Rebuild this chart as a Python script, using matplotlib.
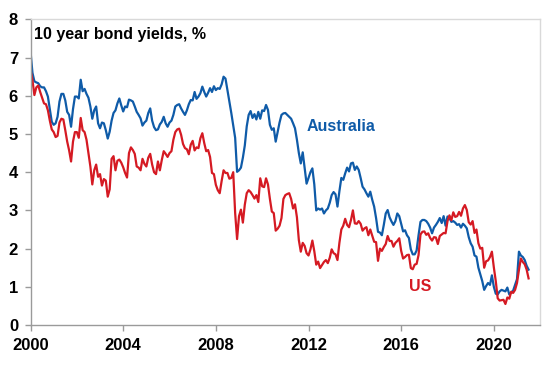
import matplotlib
matplotlib.use("Agg")
import matplotlib.pyplot as plt
import pandas as pd
import numpy as np

plt.rcParams['font.family'] = ['Liberation Sans', 'DejaVu Sans']

# Month-end 10 year bond yields (%), Jan 2000 - Jul 2021
start_month = "2000-01-01"

au_yields = [
    7.16, 6.60, 6.38, 6.35, 6.33, 6.25, 6.22, 6.22, 6.12, 5.98, 5.65, 5.32,  # 2000
    5.24, 5.28, 5.45, 5.85, 6.05, 6.05, 5.88, 5.58, 5.50, 5.19, 5.65, 5.98,  # 2001
    5.98, 5.93, 6.42, 6.12, 6.18, 6.05, 5.95, 5.72, 5.40, 5.62, 5.72, 5.28,  # 2002
    5.15, 5.30, 5.28, 5.10, 4.88, 5.06, 5.35, 5.55, 5.62, 5.80, 5.93, 5.75,  # 2003
    5.59, 5.72, 5.70, 5.90, 5.88, 5.85, 5.72, 5.58, 5.50, 5.41, 5.22, 5.30,  # 2004
    5.35, 5.55, 5.67, 5.35, 5.18, 5.10, 5.12, 5.25, 5.32, 5.45, 5.28, 5.19,  # 2005
    5.30, 5.35, 5.50, 5.72, 5.76, 5.78, 5.67, 5.58, 5.50, 5.62, 5.78, 5.89,  # 2006
    5.88, 6.10, 5.92, 5.98, 6.07, 6.24, 6.10, 5.98, 6.08, 6.20, 6.10, 6.25,  # 2007
    6.15, 6.20, 6.18, 6.30, 6.50, 6.45, 6.15, 5.85, 5.55, 5.22, 4.90, 4.01,  # 2008
    4.05, 4.12, 4.38, 4.70, 5.20, 5.50, 5.60, 5.42, 5.52, 5.38, 5.58, 5.40,  # 2009
    5.62, 5.60, 5.76, 5.63, 5.24, 5.11, 5.15, 4.80, 5.05, 5.30, 5.50, 5.54,  # 2010
    5.55, 5.50, 5.45, 5.40, 5.28, 5.15, 4.85, 4.50, 4.23, 4.52, 4.12, 3.70,  # 2011
    3.85, 4.00, 4.10, 3.68, 3.00, 3.05, 3.02, 3.05, 2.92, 3.00, 3.05, 3.20,  # 2012
    3.40, 3.48, 3.42, 3.10, 3.50, 3.85, 3.80, 3.97, 4.12, 4.02, 4.23, 4.25,  # 2013
    4.06, 4.15, 4.06, 3.85, 3.62, 3.55, 3.45, 3.36, 3.49, 3.28, 3.10, 2.80,  # 2014
    2.44, 2.42, 2.35, 2.62, 2.92, 3.01, 2.82, 2.71, 2.62, 2.72, 2.92, 2.85,  # 2015
    2.65, 2.45, 2.48, 2.35, 2.28, 1.98, 1.85, 1.85, 1.95, 2.35, 2.70, 2.75,  # 2016
    2.75, 2.72, 2.65, 2.55, 2.40, 2.55, 2.62, 2.70, 2.80, 2.67, 2.85, 2.60,  # 2017
    2.84, 2.80, 2.70, 2.72, 2.68, 2.62, 2.64, 2.55, 2.65, 2.60, 2.53, 2.30,  # 2018
    2.14, 2.05, 1.82, 1.79, 1.50, 1.32, 1.15, 0.92, 1.02, 1.10, 1.05, 1.30,  # 2019
    1.00, 0.82, 0.80, 0.88, 0.92, 0.90, 0.88, 0.98, 0.80, 0.85, 0.90, 1.05,  # 2020
    1.20, 1.92, 1.82, 1.78, 1.70, 1.55, 1.45,                                # 2021
]

us_yields = [
    6.68, 6.41, 6.02, 6.22, 6.27, 6.10, 5.95, 5.80, 5.78, 5.62, 5.35, 5.12,  # 2000
    5.05, 4.92, 4.95, 5.30, 5.40, 5.38, 5.10, 4.80, 4.57, 4.28, 4.80, 5.05,  # 2001
    5.05, 4.90, 5.42, 5.10, 5.05, 4.85, 4.50, 4.15, 3.68, 4.05, 4.20, 3.88,  # 2002
    3.95, 3.65, 3.82, 3.78, 3.36, 3.55, 4.35, 4.42, 4.05, 4.30, 4.33, 4.25,  # 2003
    4.13, 3.98, 3.86, 4.50, 4.65, 4.58, 4.48, 4.15, 4.12, 4.05, 4.35, 4.22,  # 2004
    4.15, 4.38, 4.48, 4.20, 4.00, 3.95, 4.28, 4.05, 4.32, 4.55, 4.48, 4.40,  # 2005
    4.50, 4.55, 4.85, 5.05, 5.12, 5.14, 4.98, 4.74, 4.63, 4.60, 4.47, 4.72,  # 2006
    4.82, 4.57, 4.65, 4.63, 4.89, 5.02, 4.76, 4.55, 4.58, 4.40, 3.98, 3.95,  # 2007
    3.67, 3.53, 3.45, 3.77, 4.05, 3.98, 3.98, 3.83, 3.85, 4.00, 2.93, 2.25,  # 2008
    2.85, 3.02, 2.68, 3.15, 3.45, 3.53, 3.48, 3.40, 3.31, 3.40, 3.22, 3.84,  # 2009
    3.63, 3.61, 3.84, 3.68, 3.30, 2.97, 2.93, 2.47, 2.52, 2.60, 2.80, 3.30,  # 2010
    3.40, 3.43, 3.45, 3.30, 3.05, 3.16, 2.82, 2.22, 1.92, 2.15, 2.07, 1.88,  # 2011
    1.82, 1.98, 2.21, 1.93, 1.58, 1.66, 1.49, 1.57, 1.65, 1.70, 1.62, 1.76,  # 2012
    1.98, 1.88, 1.85, 1.70, 2.15, 2.50, 2.60, 2.78, 2.62, 2.56, 2.75, 3.00,  # 2013
    2.66, 2.65, 2.72, 2.65, 2.47, 2.53, 2.56, 2.35, 2.50, 2.34, 2.18, 2.17,  # 2014
    1.68, 2.00, 1.94, 2.04, 2.12, 2.33, 2.20, 2.20, 2.05, 2.15, 2.20, 2.27,  # 2015
    1.94, 1.74, 1.78, 1.83, 1.84, 1.49, 1.46, 1.58, 1.60, 1.83, 2.37, 2.44,  # 2016
    2.45, 2.36, 2.40, 2.28, 2.21, 2.30, 2.29, 2.12, 2.33, 2.37, 2.41, 2.40,  # 2017
    2.72, 2.87, 2.74, 2.95, 2.83, 2.85, 2.96, 2.86, 3.05, 3.14, 3.01, 2.69,  # 2018
    2.63, 2.72, 2.41, 2.50, 2.14, 2.00, 2.02, 1.50, 1.67, 1.69, 1.78, 1.92,  # 2019
    1.51, 1.15, 0.70, 0.64, 0.65, 0.66, 0.55, 0.72, 0.69, 0.87, 0.84, 0.92,  # 2020
    1.10, 1.44, 1.74, 1.65, 1.59, 1.45, 1.22,                                # 2021
]

x_ticks = [2000, 2004, 2008, 2012, 2016, 2020]
y_ticks = [0, 1, 2, 3, 4, 5, 6, 7, 8]

dates = pd.date_range(start_month, periods=len(au_yields), freq="MS")
t = dates.year + (dates.month - 1) / 12.0

AU_COLOR = "#0F5BA8"
US_COLOR = "#D51A23"

fig = plt.figure(figsize=(5.48, 3.66), dpi=100)
ax = fig.add_axes([0.0557, 0.112, 0.93, 0.835])

ax.plot(t, au_yields, color=AU_COLOR, lw=1.6, solid_joinstyle="round")
ax.plot(t, us_yields, color=US_COLOR, lw=1.6, solid_joinstyle="round")

ax.set_xlim(2000, 2022)
ax.set_ylim(0, 8)
ax.set_xticks(x_ticks)
ax.set_yticks(y_ticks)
ax.set_xticklabels([str(v) for v in x_ticks])
ax.set_yticklabels([str(v) for v in y_ticks])

for lab in ax.get_xticklabels() + ax.get_yticklabels():
    lab.set_fontweight("bold")
    lab.set_fontsize(12)

ax.tick_params(axis="x", direction="out", length=4, width=1, color="#9a9a9a", pad=5)
ax.tick_params(axis="y", direction="out", length=4, width=1, color="#9a9a9a", pad=5)

for side in ["left", "bottom"]:
    ax.spines[side].set_color("#9a9a9a")
    ax.spines[side].set_linewidth(1)
for side in ["top", "right"]:
    ax.spines[side].set_color("#d9d9d9")
    ax.spines[side].set_linewidth(1)

ax.text(0.006, 0.975, "10 year bond yields, %", transform=ax.transAxes,
        ha="left", va="top", fontsize=11.5, fontweight="bold", color="black")
ax.text(2011.9, 5.2, "Australia", ha="left", va="center", fontsize=11.5,
        fontweight="bold", color=AU_COLOR)
ax.text(2016.35, 1.0, "US", ha="left", va="center", fontsize=11.5,
        fontweight="bold", color=US_COLOR)

fig.savefig("out.png", dpi=100)
